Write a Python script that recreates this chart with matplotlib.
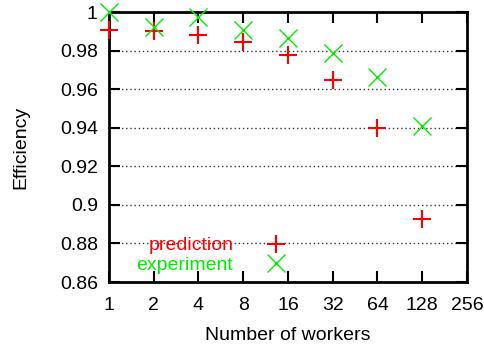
import matplotlib
matplotlib.use('Agg')
import matplotlib.pyplot as plt

workers = [1, 2, 4, 8, 16, 32, 64, 128]
prediction = [0.9907, 0.9900, 0.9882, 0.9846, 0.9777, 0.9648, 0.9397, 0.8926]
experiment = [0.9998, 0.9924, 0.9972, 0.9907, 0.9864, 0.9786, 0.9665, 0.9411]
xticks = [1, 2, 4, 8, 16, 32, 64, 128, 256]
yticks = [0.86, 0.88, 0.90, 0.92, 0.94, 0.96, 0.98, 1.0]

red = '#ff0000'
green = '#00ee00'

plt.rcParams['font.family'] = ['Liberation Sans', 'DejaVu Sans']

fig = plt.figure(figsize=(4.85, 3.45), dpi=100)
ax = fig.add_axes([0.2247, 0.1826, 0.7382, 0.7826])

ax.set_xscale('log', base=2)
ax.set_xlim(1, 256)
ax.set_ylim(0.86, 1.0)

ax.plot(workers, prediction, ls='none', marker='+', ms=13, mew=1.5,
        color=red, label='prediction', clip_on=False, zorder=5)
ax.plot(workers, experiment, ls='none', marker='x', ms=13, mew=1.0,
        color=green, label='experiment', clip_on=False, zorder=5)

ax.set_xticks(xticks)
ax.set_xticklabels([str(v) for v in xticks])
ax.set_yticks(yticks)
ax.set_yticklabels(['%g' % v for v in yticks])
ax.minorticks_off()

ax.tick_params(direction='in', length=8, width=1.5, top=True, right=True,
               labelsize=14)
ax.tick_params(axis='x', pad=11)
ax.tick_params(axis='y', pad=8)
ax.yaxis.grid(True, linestyle=(0, (1, 2)), color='#333333', linewidth=1.0)
for s in ax.spines.values():
    s.set_linewidth(2)

ax.set_xlabel('Number of workers', fontsize=14, labelpad=9)
ax.set_ylabel('Efficiency', fontsize=14, labelpad=22)

ax.legend(loc='lower right', bbox_to_anchor=(0.521, 0.03), frameon=False,
          markerfirst=False, labelcolor='linecolor', fontsize=14,
          handlelength=2.0, handletextpad=1.2, borderpad=0.0,
          borderaxespad=0.0, labelspacing=0.1)

fig.savefig('out.png', dpi=100)
